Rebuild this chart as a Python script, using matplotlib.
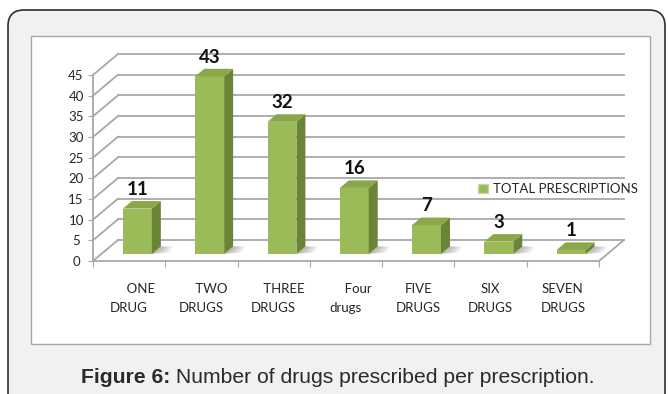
import numpy as np
import matplotlib.pyplot as plt
from matplotlib.patches import Polygon, Rectangle, FancyBboxPatch, Patch

# chart data
labels = ["       ONE\nDRUG", "      TWO\nDRUGS", "      THREE\nDRUGS", "       Four\ndrugs",
          "FIVE\nDRUGS", "SIX\nDRUGS", "SEVEN\nDRUGS"]
prescriptions = [11, 43, 32, 16, 7, 3, 1]
y_ticks = [0, 5, 10, 15, 20, 25, 30, 35, 40, 45]
series_name = "TOTAL PRESCRIPTIONS"
caption_bold = "Figure 6:"
caption_rest = " Number of drugs prescribed per prescription."

plt.rcParams['font.family'] = ['Lato', 'DejaVu Sans']

W, H = 668, 394
fig = plt.figure(figsize=(W / 100, H / 100), dpi=100, facecolor='white')

# background frame and white chart panel
bg = fig.add_axes([0, 0, 1, 1])
bg.set_xlim(0, W)
bg.set_ylim(H, 0)
bg.axis('off')
bg.add_patch(FancyBboxPatch((8, 10), 657, 430, boxstyle="round,pad=0,rounding_size=16",
                            fc='#f0f1f3', ec='#2e2e2e', lw=1.2))
bg.add_patch(Rectangle((31, 36), 619, 308, fc='white', ec='#a6a6a6', lw=1))

# front plane of the 3d plot
ax = fig.add_axes([93 / W, 1 - 261 / H, 506 / W, 186 / H])
ax.set_facecolor('none')
n = len(prescriptions)
ax.set_xlim(-0.5, n - 0.5)
ax.set_ylim(0, 45)

# depth vector (data units)
dx = 25 / (506 / n)
dy = 21 / (186 / 45)
grid_c = '#a8a8a8'

for v in y_ticks:
    ax.plot([-0.5, -0.5 + dx], [v, v + dy], color=grid_c, lw=1.3, clip_on=False, zorder=1)
    ax.plot([-0.5 + dx, n - 0.5 + dx], [v + dy, v + dy], color=grid_c, lw=1.3, clip_on=False, zorder=1)
ax.plot([n - 0.5, n - 0.5 + dx], [0, dy], color=grid_c, lw=1.3, clip_on=False, zorder=1)

# bars
x = np.arange(n)
ox, oy = 0.33 * dx, 0.33 * dy
bx, by = 0.36 * dx, 0.36 * dy
bw = 0.4
bars = ax.bar(x + ox, prescriptions, width=bw, bottom=oy, color='#9bbb59',
              zorder=3, clip_on=False)
for r, v in zip(bars, prescriptions):
    x0, y0 = r.get_x(), r.get_y()
    x1, y1 = x0 + r.get_width(), y0 + r.get_height()
    # soft floor shadow
    for k in range(6):
        L = 0.04 + 0.04 * k
        ax.add_patch(Polygon([(x1, y0), (x1 + L, y0 + 0.2 * by), (x1 + bx + 0.7 * L, y0 + by),
                              (x1 + bx, y0 + by)], closed=True, fc='#707070', ec='none',
                             alpha=0.1, zorder=2, clip_on=False))
    ax.add_patch(Polygon([(x1, y0), (x1 + bx, y0 + by), (x1 + bx, y1 + by), (x1, y1)],
                         closed=True, fc='#6b8537', ec='none', zorder=3, clip_on=False))
    ax.add_patch(Polygon([(x0, y1), (x1, y1), (x1 + bx, y1 + by), (x0 + bx, y1 + by)],
                         closed=True, fc='#8aa84b', ec='none', zorder=3, clip_on=False))
    ax.annotate(str(v), (x0 + bw / 2, y1 + by), xytext=(0, 4.5), textcoords='offset points',
                ha='center', va='baseline', fontsize=13.5, fontweight='bold', color='#111111',
                annotation_clip=False, zorder=5)

# axes
for s in ['top', 'right']:
    ax.spines[s].set_visible(False)
for s in ['left', 'bottom']:
    ax.spines[s].set_color(grid_c)
    ax.spines[s].set_linewidth(1.3)
ax.set_yticks(y_ticks)
ax.tick_params(axis='y', direction='out', length=3.5, color=grid_c, labelsize=9.5,
               labelcolor='#262626', pad=8.7)
plt.setp(ax.get_yticklabels(), ha='center')
ax.set_xticks(np.arange(-0.5, n, 1.0))
ax.set_xticklabels([])
ax.tick_params(axis='x', which='major', direction='out', length=4, color=grid_c)
ax.set_xticks(x, labels, minor=True)
ax.tick_params(axis='x', which='minor', length=0, labelsize=9.5, labelcolor='#262626', pad=15.5)
for t in ax.get_xticklabels(minor=True):
    t.set_linespacing(1.75)
    t.set_multialignment('center')

fig.legend(handles=[Patch(fc='#9bbb59', ec='#c5d99c')], labels=[series_name],
           loc='center left', bbox_to_anchor=(478 / W, 1 - 189 / H), frameon=False,
           fontsize=9.5, handlelength=0.75, handleheight=0.75, handletextpad=0.4,
           borderpad=0, borderaxespad=0, labelcolor='#262626')

# caption
t1 = bg.text(81, 383, caption_bold, fontsize=15.2, fontweight='bold', family='Liberation Sans',
             color='#2a2a2a', va='baseline', ha='left')
bg.annotate(caption_rest, xy=(1, 0), xycoords=t1, va='bottom', ha='left', fontsize=15.2,
            family='Liberation Sans', color='#2a2a2a')

fig.savefig('out.png', dpi=100)
